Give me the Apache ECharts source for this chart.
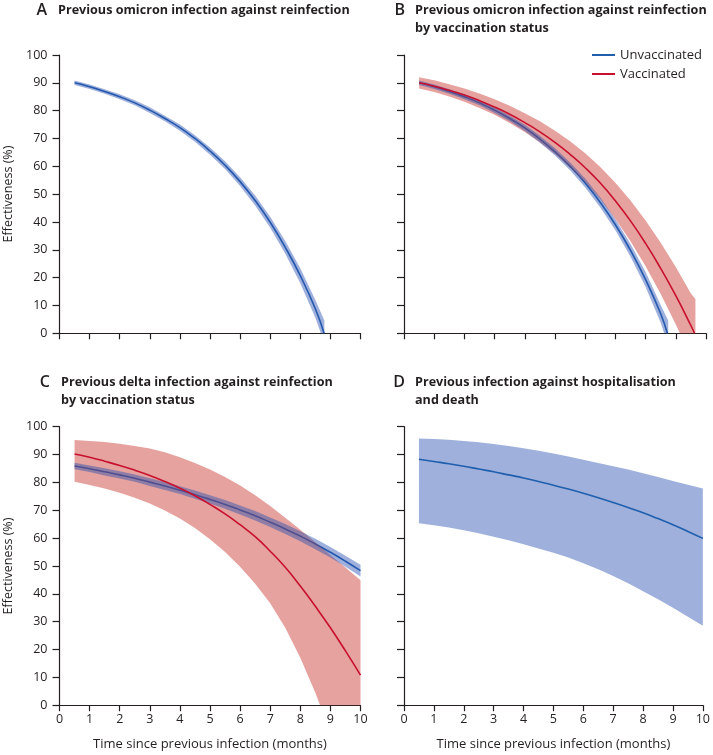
<!DOCTYPE html>
<html>
<head>
<meta charset="utf-8">
<script src="https://cdn.jsdelivr.net/npm/echarts@6/dist/echarts.min.js"></script>
<style>
html,body{margin:0;padding:0;background:#fff;}
#chart{width:713px;height:755px;}
</style>
</head>
<body>
<div id="chart"></div>
<script>
// ---------- DATA ----------
const xTicks = [0,1,2,3,4,5,6,7,8,9,10];
const yTicks = [0,10,20,30,40,50,60,70,80,90,100];

// Panel A: previous omicron infection against reinfection
const aLineT = [0.5,1,1.5,2,2.5,3,3.5,4,4.5,5,5.5,6,6.5,7,7.5,8,8.5,8.79];
const aLineV = [90,88.6,86.9,85.0,82.8,80.2,77.2,73.9,70.0,65.5,60.4,54.5,47.7,39.9,30.9,20.7,8.8,0];
const aBandT = [0.5,1,1.5,2,2.5,3,3.5,4,4.5,5,5.5,6,6.5,7,7.5,8,8.5,8.8];
const aBandUp = [90.8,89.4,87.7,85.9,83.7,81.2,78.2,75.0,71.2,66.8,61.8,56.1,49.5,41.9,33.2,23.4,12.0,4.6];
const aBandLo = [89.2,87.8,86.1,84.1,81.9,79.2,76.2,72.8,68.8,64.2,59.0,52.9,45.9,37.9,28.6,18.0,5.6,-3.6];

// Panel B: by vaccination status (omicron)
const bUnvT = [0.5,1,1.5,2,2.5,3,3.5,4,4.5,5,5.5,6,6.5,7,7.5,8,8.5,8.72];
const bUnvV = [90,88.6,86.9,85.0,82.8,80.2,77.2,73.8,69.8,65.2,60.0,54.0,47.0,39.0,29.8,19.3,7.0,0];
const bUnvBandT = [0.5,1,1.5,2,2.5,3,3.5,4,4.5,5,5.5,6,6.5,7,7.5,8,8.5,8.75];
const bUnvBandUp = [90.8,89.4,87.7,85.9,83.7,81.2,78.2,74.9,71.0,66.5,61.4,55.6,48.8,41.0,32.1,22.0,10.2,4.5];
const bUnvBandLo = [89.2,87.8,86.1,84.1,81.9,79.2,76.2,72.7,68.6,63.9,58.6,52.4,45.2,37.0,27.5,16.6,3.8,-4.5];
const bVacT = [0.5,1,1.5,2,2.5,3,3.5,4,4.5,5,5.5,6,6.5,7,7.5,8,8.5,9,9.5,9.62];
const bVacV = [90.0,88.8,87.3,85.6,83.6,81.3,78.7,75.7,72.4,68.6,64.3,59.5,54.0,47.6,40.4,32.3,23.3,13.5,2.8,0];
const bVacBandT = [0.5,1,1.5,2,2.5,3,3.5,4,4.5,5,5.5,6,6.5,7,7.5,8,8.5,9,9.5,9.65];
const bVacBandUp = [92.0,90.9,89.5,88.0,86.2,84.1,81.8,79.1,76.2,72.8,69.0,64.7,59.8,54.1,47.7,40.5,32.5,23.8,14.3,12.3];
const bVacBandLo = [88.0,86.7,85.1,83.2,81.0,78.5,75.6,72.3,68.6,64.4,59.6,54.3,48.2,41.1,33.1,24.1,14.1,3.2,-8.7,-13.3];

// Panel C: previous delta infection by vaccination status
const cT = [0.5,1,1.5,2,2.5,3,3.5,4,4.5,5,5.5,6,6.5,7,7.5,8,8.5,9,9.5,10];
const cUnvV = [85.9,84.9,83.8,82.7,81.5,80.1,78.7,77.2,75.6,73.9,72.1,70.1,68.0,65.7,63.3,60.7,57.9,54.9,51.7,48.3];
const cUnvUp = [87.1,86.1,85.1,84.0,82.8,81.5,80.1,78.6,77.1,75.4,73.7,71.7,69.7,67.4,65.1,62.5,59.8,56.8,53.7,50.4];
const cUnvLo = [84.7,83.7,82.5,81.4,80.2,78.7,77.3,75.8,74.1,72.4,70.5,68.5,66.3,64.0,61.5,58.9,56.0,53.0,49.7,46.2];
const cVacV = [90.2,89.0,87.6,86.1,84.4,82.5,80.3,77.9,75.2,72.1,68.7,64.8,60.5,55.3,49.5,42.8,35.5,27.8,19.5,10.8];
const cVacUp = [95.2,94.9,94.5,93.9,93.1,92.2,90.8,89.0,87.0,84.6,81.9,78.9,75.4,71.5,67.3,63.0,58.5,53.9,49.4,44.9];
const cVacLo = [80.2,79.1,77.8,76.3,74.5,72.4,69.9,67.0,63.6,59.6,55.0,49.7,43.6,36.6,27.8,17.0,4.5,-10,-26,-44];

// Panel D: previous infection against hospitalisation and death
const dT = [0.5,1,1.5,2,2.5,3,3.5,4,4.5,5,5.5,6,6.5,7,7.5,8,8.5,9,9.5,10];
const dV = [88.3,87.5,86.7,85.8,84.8,83.8,82.7,81.6,80.3,79.0,77.6,76.1,74.5,72.8,71.0,69.1,67.0,64.8,62.4,59.9];
const dUp = [95.8,95.6,95.3,94.9,94.4,93.8,93.1,92.3,91.4,90.4,89.3,88.1,87.0,85.8,84.6,83.3,81.9,80.5,79.2,77.8];
const dLo = [65.3,64.6,63.8,62.8,61.7,60.5,59.2,57.8,56.3,54.7,53.0,51.0,48.8,46.4,43.8,40.9,38.0,35.0,31.8,28.5];

const panelLetters = ['A','B','C','D'];
const panelTitles = [
  'Previous omicron infection against reinfection',
  'Previous omicron infection against reinfection\nby vaccination status',
  'Previous delta infection against reinfection\nby vaccination status',
  'Previous infection against hospitalisation\nand death'
];
const legendNames = ['Unvaccinated','Vaccinated'];
const xAxisTitle = 'Time since previous infection (months)';
const yAxisTitle = 'Effectiveness (%)';

// ---------- STYLE ----------
const FONT = '"Open Sans", "Noto Sans", sans-serif';
const AX = '#231f20';
const BLUE = '#1f5fae';
const RED = '#c8102e';
const BLUE_BAND = 'rgba(40,80,175,0.45)';
const RED_BAND = 'rgba(200,60,55,0.48)';

const grids = [
  {left:59.5, top:55, width:301, height:278.3},
  {left:404, top:55, width:302, height:278.3},
  {left:59.5, top:426.7, width:301, height:278.5},
  {left:404, top:426.7, width:302, height:278.5}
];

function pairs(t, v){ return t.map((x,i)=>[x, v[i]]); }

function xAx(i, labels, named){
  return {
    type:'value', gridIndex:i, min:xTicks[0], max:xTicks[xTicks.length-1], interval:1,
    axisLine:{show:true, onZero:false, lineStyle:{color:AX, width:1.2}},
    axisTick:{show:true, inside:false, length:6, lineStyle:{color:AX, width:1.2}},
    axisLabel:{show:labels, color:AX, fontSize:12.5, margin:8, fontFamily:FONT},
    splitLine:{show:false},
    name: named ? xAxisTitle : '', nameLocation:'middle', nameGap:33,
    nameTextStyle:{color:AX, fontSize:13, fontFamily:FONT}
  };
}
function yAx(i, labels){
  return {
    type:'value', gridIndex:i, min:yTicks[0], max:yTicks[yTicks.length-1], interval:10,
    axisLine:{show:true, onZero:false, lineStyle:{color:AX, width:1.2}},
    axisTick:{show:true, inside:false, length:7, lineStyle:{color:AX, width:1.2}},
    axisLabel:{show:labels, color:AX, fontSize:12.5, margin:12, fontFamily:FONT},
    splitLine:{show:false}
  };
}

function band(i, t, up, lo, color, z){
  return {
    type:'custom', name:'band'+i+z, xAxisIndex:i, yAxisIndex:i, clip:true, silent:true, z:z,
    data:[[t[0], up[0]]],
    renderItem:function(params, api){
      const pts = [];
      for (let k=0;k<t.length;k++) pts.push(api.coord([t[k], up[k]]));
      for (let k=t.length-1;k>=0;k--) pts.push(api.coord([t[k], lo[k]]));
      return {type:'polygon', shape:{points:pts}, style:{fill:color}};
    }
  };
}
function line(i, name, t, v, color, z){
  return {
    type:'line', name:name, xAxisIndex:i, yAxisIndex:i, z:z,
    data:pairs(t, v), smooth:true, showSymbol:false, symbol:'none',
    lineStyle:{color:color, width:1.6}, itemStyle:{color:color}
  };
}

const series = [
  // A
  line(0, legendNames[0], aLineT, aLineV, BLUE, 1),
  band(0, aBandT, aBandUp, aBandLo, BLUE_BAND, 3),
  // B
  line(1, legendNames[0], bUnvT, bUnvV, BLUE, 1),
  band(1, bVacBandT, bVacBandUp, bVacBandLo, RED_BAND, 2),
  band(1, bUnvBandT, bUnvBandUp, bUnvBandLo, BLUE_BAND, 3),
  line(1, legendNames[1], bVacT, bVacV, RED, 4),
  // C
  line(2, legendNames[0], cT, cUnvV, BLUE, 1),
  band(2, cT, cVacUp, cVacLo, RED_BAND, 2),
  band(2, cT, cUnvUp, cUnvLo, BLUE_BAND, 3),
  line(2, legendNames[1], cT, cVacV, RED, 4),
  // D
  band(3, dT, dUp, dLo, BLUE_BAND, 2),
  line(3, legendNames[0], dT, dV, BLUE, 4)
];

const graphic = [];
const letterPos = [[47,10],[405,10],[50,382],[405,382]];
const titlePos = [[58,10],[415,10],[61,382],[415,382]];
for (let i=0;i<4;i++){
  graphic.push({type:'text', x:letterPos[i][0], y:letterPos[i][1],
    style:{text:panelLetters[i], fill:AX, font:'600 16px '+FONT, align:'right', verticalAlign:'middle'}});
  graphic.push({type:'text', x:titlePos[i][0], y:titlePos[i][1]-9,
    style:{text:panelTitles[i], fill:AX, font:'bold 12.6px '+FONT, align:'left', verticalAlign:'top', lineHeight:18}});
}
graphic.push({type:'text', x:8, y:194, rotation:Math.PI/2,
  style:{text:yAxisTitle, fill:AX, font:'12.5px '+FONT, align:'center', verticalAlign:'middle'}});
graphic.push({type:'text', x:8, y:566, rotation:Math.PI/2,
  style:{text:yAxisTitle, fill:AX, font:'12.5px '+FONT, align:'center', verticalAlign:'middle'}});

const option = {
  animation:false,
  backgroundColor:'#ffffff',
  grid:grids,
  xAxis:[xAx(0,false,false), xAx(1,false,false), xAx(2,true,true), xAx(3,true,true)],
  yAxis:[yAx(0,true), yAx(1,false), yAx(2,true), yAx(3,false)],
  legend:{
    data:legendNames, orient:'vertical', left:587, top:42, itemWidth:23, itemHeight:2,
    icon:'rect', itemGap:3, selectedMode:false,
    textStyle:{color:AX, fontSize:13, fontFamily:FONT, lineHeight:16}
  },
  series:series,
  graphic:graphic
};

const chart = echarts.init(document.getElementById('chart'), null, {renderer:'canvas'});
chart.setOption(option);
</script>
</body>
</html>
